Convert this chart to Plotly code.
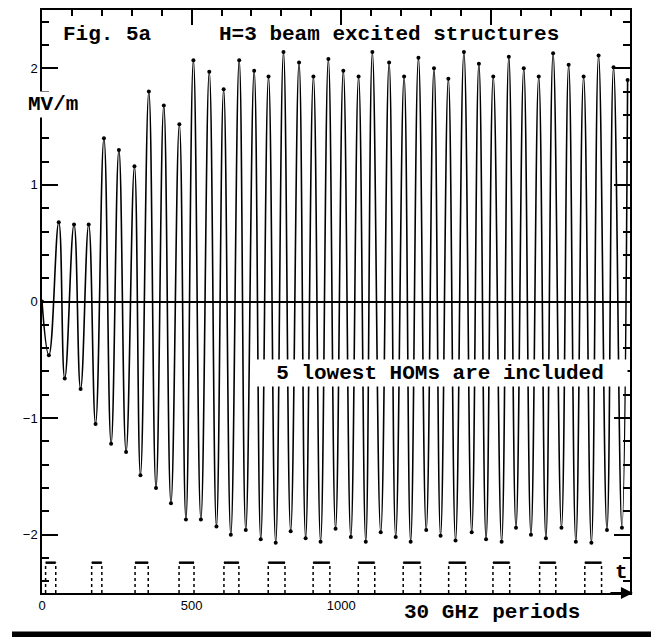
import plotly.graph_objects as go

# ---- data (time in 30 GHz periods, field in MV/m) ----
trough_t = [23, 76, 129, 179, 231, 281, 329, 381, 431, 481, 531, 583, 631, 681, 731, 781,
            831, 881, 931, 981, 1032, 1082, 1132, 1182, 1232, 1284, 1332, 1382, 1436, 1484,
            1536, 1584, 1634, 1684, 1736, 1784, 1836, 1888, 1938]
trough_v = [-0.46, -0.66, -0.75, -1.05, -1.22, -1.29, -1.49, -1.60, -1.73, -1.87, -1.87, -1.93,
            -2.00, -1.96, -2.04, -2.07, -1.97, -2.03, -2.06, -1.95, -2.02, -2.06, -1.98, -2.02,
            -2.06, -1.96, -2.01, -2.05, -1.98, -2.04, -2.06, -1.94, -2.00, -2.03, -1.94, -2.06,
            -2.07, -1.96, -1.94]
peak_t = [56, 107, 156, 207, 257, 309, 357, 407, 459, 506, 559, 607, 659, 709, 757, 807,
          859, 907, 957, 1007, 1058, 1104, 1160, 1210, 1258, 1310, 1358, 1410, 1460, 1508,
          1560, 1610, 1660, 1708, 1760, 1810, 1860, 1910, 1957]
peak_v = [0.68, 0.66, 0.66, 1.40, 1.30, 1.16, 1.80, 1.68, 1.52, 2.07, 1.97, 1.82, 2.07, 1.98,
          1.93, 2.14, 2.05, 1.93, 2.08, 1.98, 1.93, 2.14, 2.05, 1.93, 2.09, 2.00, 1.91, 2.14,
          2.04, 1.93, 2.10, 2.00, 1.93, 2.13, 2.03, 1.93, 2.11, 2.01, 1.90]

# bunch-train pulses (start/end times) and their drawing level
pulse_start = [12, 166, 311, 458, 608, 756, 906, 1057, 1207, 1359, 1507, 1663, 1814]
pulse_end = [46, 200, 355, 508, 658, 812, 962, 1112, 1265, 1416, 1563, 1717, 1870]
pulse_level = -2.24

x_tick_vals = [0, 500, 1000]
x_tick_text = ["0", "500", "1000"]
y_tick_vals = [-2, -1, 0, 1, 2]
y_tick_text = ["\u22122", "\u22121", "0", "1", "2"]

X_MAX = 1965
Y_MIN, Y_MAX = -2.5, 2.5

# ---- build waveform ----
wave_t = [0]
wave_v = [0.0]
for tt, tv, pt, pv in zip(trough_t, trough_v, peak_t, peak_v):
    wave_t += [tt, pt]
    wave_v += [tv, pv]

# pulses
top_x, top_y, side_x, side_y = [], [], [], []
for s, e in zip(pulse_start, pulse_end):
    top_x += [s, e, None]
    top_y += [pulse_level, pulse_level, None]
    side_x += [s, s, None, e, e, None]
    side_y += [Y_MIN, pulse_level, None, Y_MIN, pulse_level, None]

fig = go.Figure()
fig.add_trace(go.Scatter(x=wave_t, y=wave_v, mode="lines+markers",
                         line=dict(color="black", width=1.6, shape="spline", smoothing=1.3),
                         marker=dict(color="black", size=4),
                         showlegend=False, hoverinfo="skip"))
fig.add_trace(go.Scatter(x=top_x, y=top_y, mode="lines", xaxis="x2",
                         line=dict(color="black", width=2.5),
                         showlegend=False, hoverinfo="skip"))
fig.add_trace(go.Scatter(x=side_x, y=side_y, mode="lines", xaxis="x2",
                         line=dict(color="black", width=1.5, dash="dot"),
                         showlegend=False, hoverinfo="skip"))

mono = "Liberation Mono"
tfont = dict(family=mono, size=21, color="black", weight="bold")
nfont = dict(family="Liberation Sans", size=13, color="black")

fig.update_layout(
    width=651, height=637,
    margin=dict(l=42, r=21, t=8, b=44),
    plot_bgcolor="white", paper_bgcolor="white",
    xaxis=dict(range=[0, X_MAX], showgrid=False, zeroline=False,
               showline=True, mirror=True, linecolor="black", linewidth=1.5,
               ticks="", tickvals=x_tick_vals, ticktext=x_tick_text, tickfont=nfont),
    xaxis2=dict(range=[0, X_MAX], overlaying="x", side="top", anchor="y",
                showgrid=False, zeroline=False, showline=False,
                showticklabels=False, ticks="inside", ticklen=15, tickwidth=1.5,
                tickcolor="black", dtick=500, tick0=0,
                minor=dict(ticks="inside", ticklen=6, dtick=100, tickcolor="black",
                           tickwidth=1.5, showgrid=False)),
    yaxis=dict(range=[Y_MIN, Y_MAX], showgrid=False,
               zeroline=True, zerolinecolor="black", zerolinewidth=1.5,
               showline=True, mirror="ticks", linecolor="black", linewidth=1.5,
               ticks="inside", ticklen=16, tickwidth=1.5, tickcolor="black",
               tickvals=y_tick_vals, ticktext=y_tick_text, tickfont=nfont,
               minor=dict(ticks="inside", ticklen=7, dtick=0.2, tick0=0,
                          tickcolor="black", tickwidth=1.5, showgrid=False)),
)

fig.add_annotation(x=220, y=2.29, xref="x", yref="y", text="Fig. 5a",
                   showarrow=False, font=tfont)
fig.add_annotation(x=1158, y=2.29, xref="x", yref="y",
                   text="H=3 beam excited structures", showarrow=False, font=tfont)
fig.add_annotation(x=(53 - 42) / 588, y=1.69, xref="paper", yref="y", text="MV/m",
                   xanchor="center", yanchor="middle",
                   showarrow=False, font=tfont, bgcolor="white", borderpad=1)
fig.add_annotation(x=1330, y=-0.61, xref="x", yref="y",
                   text="5 lowest HOMs are included", showarrow=False, font=tfont,
                   bgcolor="white", width=372, height=24, borderpad=1)
fig.add_annotation(x=1503, y=-0.034, xref="x", yref="paper", text="30 GHz periods",
                   xanchor="center", yanchor="middle",
                   showarrow=False, font=tfont)
fig.add_annotation(x=1937, y=-2.32, xref="x", yref="y", text="t",
                   showarrow=False, font=tfont)
fig.add_annotation(x=1.005, y=0, xref="paper", yref="paper", text="",
                   showarrow=True, ax=-24, ay=0, arrowhead=2, arrowsize=1.2,
                   arrowwidth=2, arrowcolor="black")

fig.add_shape(type="rect", xref="paper", yref="paper",
              x0=-0.051, x1=1.04, y0=-0.076, y1=-0.066,
              fillcolor="black", line=dict(width=0), layer="above")

fig.write_html("out.html")
